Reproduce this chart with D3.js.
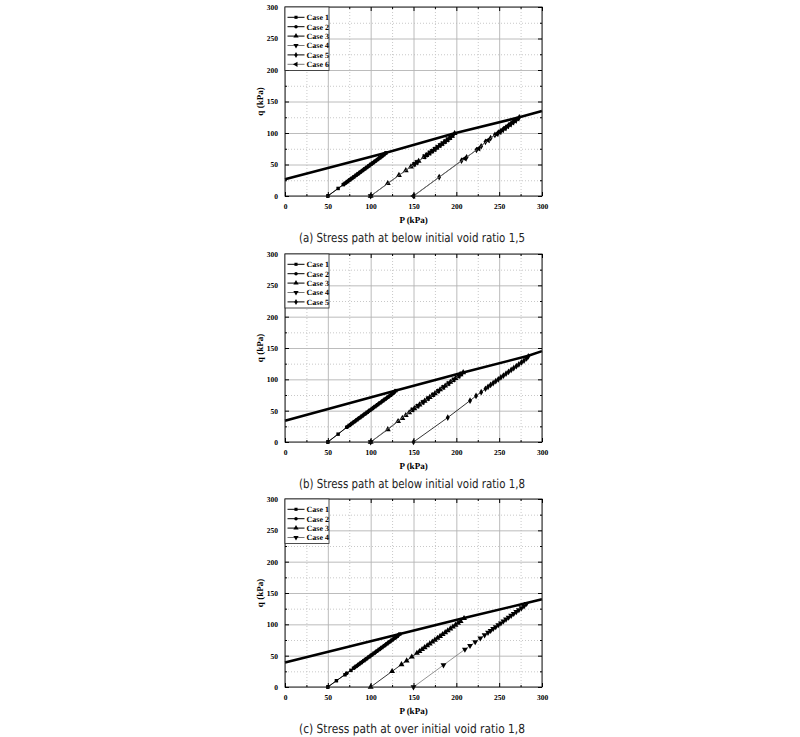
<!DOCTYPE html>
<html><head><meta charset="utf-8">
<script src="https://cdn.jsdelivr.net/npm/d3@7/dist/d3.min.js"></script>
<style>body{margin:0;background:#fff} text{text-rendering:geometricPrecision}</style>
</head><body>
<svg id="chart" width="800" height="737"></svg>
<script>
// ---------- DATA ----------
const majorTicks = [0, 50, 100, 150, 200, 250, 300];
const minorTicks = [25, 75, 125, 175, 225, 275];
const caseNames = ["Case 1", "Case 2", "Case 3", "Case 4", "Case 5", "Case 6"];
const captions = [
  "(a) Stress path at below initial void ratio 1,5",
  "(b) Stress path at below initial void ratio 1,8",
  "(c) Stress path at over initial void ratio 1,8"
];

// Panel (a) failure line
const failAP = [0, 118, 198, 273.5, 300];
const failAQ = [26.5, 68.5, 99.5, 125, 135];
// Panel (a) stress paths
const aC1P = [50, 62, 68, 70.5, 73, 75.5, 78, 80.5, 83, 85.5, 88, 90.5, 93, 95.5, 98, 100.5, 103, 105.5, 108, 110.5, 113, 115.5, 118];
const aC1Q = [0, 12, 18, 20.5, 23, 25.5, 28, 30.5, 33, 35.5, 38, 40.5, 43, 45.5, 48, 50.5, 53, 55.5, 58, 60.5, 63, 65.8, 68.5];
const aC2P = [50, 69, 72, 74.5, 77, 79.5, 82, 84.5, 87, 89.5, 92, 94.5, 97, 99.5, 102, 104.5, 107, 109.5, 112, 114.5, 117];
const aC2Q = [0, 19, 22, 24.5, 27, 29.5, 32, 34.5, 37, 39.5, 42, 44.5, 47, 49.5, 52, 54.5, 57, 59.5, 62, 64.6, 67.4];
const aC3P = [100, 120, 133, 141, 147, 150, 153, 156, 162, 165, 168, 171, 174, 177, 180, 183, 186, 189, 192, 195, 198];
const aC3Q = [0, 20, 33, 40.5, 46.5, 49.5, 52.5, 55.5, 61.5, 64.5, 67.5, 70.5, 73.5, 76.5, 79.5, 82.5, 85.5, 88.5, 91.5, 95, 99.5];
const aC4P = [100, 151.5, 154.5, 163.5, 166.5, 169.5, 172.5, 175.5, 178.5, 181.5, 184.5, 187.5, 190.5, 193.5, 196.5];
const aC4Q = [0, 51, 54, 63, 66, 69, 72, 75, 78, 81, 84, 87, 90, 93.5, 97.5];
const aC5P = [150, 180, 206, 212, 223.5, 229, 234, 240, 245, 249, 252, 255, 258, 261, 264, 267, 270, 273.5];
const aC5Q = [0, 30, 56, 61.5, 73, 79, 86, 92, 97, 100.5, 103, 106, 109, 112, 115, 118, 121, 125];
const aC6P = [150, 210, 226, 237, 247, 250.5, 253.5, 256.5, 259.5, 262.5, 265.5, 268.5, 271.5];
const aC6Q = [0, 59.5, 75.5, 88.5, 98.5, 101.5, 104.5, 107.5, 110.5, 113.5, 116.5, 119.5, 122.8];

// Panel (b) failure line
const failBP = [0, 129.5, 208, 284, 300];
const failBQ = [34, 82, 111, 137.5, 145];
// Panel (b) stress paths
const bC1P = [50, 62, 72, 75, 78, 81, 84, 87, 90, 93, 96, 99, 102, 105, 108, 111, 114, 117, 120, 123, 126, 129.5];
const bC1Q = [0, 12.5, 23.5, 26.5, 29.5, 32.5, 35.5, 38.5, 41.5, 44.5, 47.5, 50.5, 53.5, 56.5, 59.5, 62.5, 65.5, 68.5, 71.5, 74.5, 77.8, 82];
const bC2P = [50, 73.5, 76.5, 79.5, 82.5, 85.5, 88.5, 91.5, 94.5, 97.5, 100.5, 103.5, 106.5, 109.5, 112.5, 115.5, 118.5, 121.5, 124.5, 127.5];
const bC2Q = [0, 25, 28, 31, 34, 37, 40, 43, 46, 49, 52, 55, 58, 61, 64, 67, 70, 73, 76, 79.5];
const bC3P = [100, 120, 132, 137, 141, 145, 148, 151, 154, 157, 160, 163, 166, 169, 172, 175, 178, 181, 184, 187, 190, 193, 196, 199, 202, 205, 208];
const bC3Q = [0, 20, 33, 38, 42.5, 47, 50.5, 53.5, 56.5, 59.5, 62.5, 65.5, 68.5, 71.5, 74.5, 77.5, 80.5, 83.5, 86.5, 89.5, 92.5, 95.5, 98.5, 101.5, 104.5, 107.5, 111];
const bC4P = [100, 149.5, 155.5, 161.5, 167.5, 173.5, 179.5, 185.5, 191.5, 197.5, 203.5, 206.5];
const bC4Q = [0, 52, 58, 64, 70, 76, 82, 88, 94, 100, 106, 109.5];
const bC5P = [150, 190, 216, 223, 229, 234, 237, 240, 243, 246, 249, 252, 255, 258, 261, 264, 267, 270, 273, 276, 279, 282, 284];
const bC5Q = [0, 39, 66, 73.5, 79.5, 85, 88, 91, 94, 97, 100, 103, 106, 109, 112, 115, 118, 121, 124, 127, 130, 133.5, 136.5];

// Panel (c) failure line
const failCP = [0, 134, 209, 282, 300];
const failCQ = [39, 84.5, 110, 134, 140];
// Panel (c) stress paths
const cC1P = [50, 60, 70, 77, 80, 83, 86, 89, 92, 95, 98, 101, 104, 107, 110, 113, 116, 119, 122, 125, 128, 131, 134];
const cC1Q = [0, 10, 19.5, 26.5, 30, 33, 36, 39, 42, 45, 48, 51, 54, 57, 60, 63, 66, 69, 72, 75, 78, 81, 84.5];
const cC2P = [50, 72, 81.5, 84.5, 87.5, 90.5, 93.5, 96.5, 99.5, 102.5, 105.5, 108.5, 111.5, 114.5, 117.5, 120.5, 123.5, 126.5, 129.5, 132.5];
const cC2Q = [0, 22, 31.5, 34.5, 37.5, 40.5, 43.5, 46.5, 49.5, 52.5, 55.5, 58.5, 61.5, 64.5, 67.5, 70.5, 73.5, 76.5, 79.5, 83];
const cC3P = [100, 125, 136, 142, 148, 154, 157, 160, 163, 166, 169, 172, 175, 178, 181, 184, 187, 190, 193, 196, 199, 202, 205, 209];
const cC3Q = [0, 25, 36, 42, 48, 54, 57, 60, 63, 66, 69, 72, 75, 78, 81, 84, 87, 90, 93, 96, 99, 102, 105, 109.5];
const cC4P = [150, 185, 210, 216, 222, 228, 233, 237, 240, 243, 246, 249, 252, 255, 258, 261, 264, 267, 270, 273, 276, 279, 282];
const cC4Q = [0, 35, 60, 66, 72, 78, 83, 87, 90, 93, 96, 99, 102, 105, 108, 111, 114, 117, 120, 123, 126, 129, 133];

// ---------- DRAWING ----------
const symbolTypes = [
  {t: d3.symbolSquare, r: 0, s: 12},
  {t: d3.symbolCircle, r: 0, s: 12},
  {t: d3.symbolTriangle, r: 0, s: 15},
  {t: d3.symbolTriangle, r: 180, s: 15},
  {t: d3.symbolDiamond, r: 0, s: 13},
  {t: d3.symbolTriangle, r: -90, s: 15}
];
const lineColors = ["#000", "#000", "#000", "#777", "#000", "#777"];

const panels = [
  {top: 7, bottom: 196, fail: [failAP, failAQ], cases: [[aC1P, aC1Q], [aC2P, aC2Q], [aC3P, aC3Q], [aC4P, aC4Q], [aC5P, aC5Q], [aC6P, aC6Q]]},
  {top: 254, bottom: 442, fail: [failBP, failBQ], cases: [[bC1P, bC1Q], [bC2P, bC2Q], [bC3P, bC3Q], [bC4P, bC4Q], [bC5P, bC5Q]]},
  {top: 499, bottom: 687, fail: [failCP, failCQ], cases: [[cC1P, cC1Q], [cC2P, cC2Q], [cC3P, cC3Q], [cC4P, cC4Q]]}
];
const X0 = 285, X1 = 542;
const svg = d3.select("#chart");
const serif = "'Liberation Serif','Times New Roman',serif";

panels.forEach((pn, pi) => {
  const x = d3.scaleLinear().domain([0, 300]).range([X0, X1]);
  const y = d3.scaleLinear().domain([0, 300]).range([pn.bottom, pn.top]);
  const g = svg.append("g");
  const H = pn.bottom - pn.top, Wd = X1 - X0;

  // minor grid (dotted)
  g.append("g").attr("transform", `translate(0,${pn.bottom})`)
    .call(d3.axisBottom(x).tickValues(minorTicks).tickSize(-H).tickFormat(""))
    .call(a => { a.select(".domain").remove(); a.selectAll("line").attr("stroke", "#c8c8c8").attr("stroke-dasharray", "1,2"); });
  g.append("g").attr("transform", `translate(${X0},0)`)
    .call(d3.axisLeft(y).tickValues(minorTicks).tickSize(-Wd).tickFormat(""))
    .call(a => { a.select(".domain").remove(); a.selectAll("line").attr("stroke", "#c8c8c8").attr("stroke-dasharray", "1,2"); });
  // major grid
  g.append("g").attr("transform", `translate(0,${pn.bottom})`)
    .call(d3.axisBottom(x).tickValues(majorTicks).tickSize(-H).tickFormat(""))
    .call(a => { a.select(".domain").remove(); a.selectAll("line").attr("stroke", "#b4b4b4").attr("stroke-width", 0.9); });
  g.append("g").attr("transform", `translate(${X0},0)`)
    .call(d3.axisLeft(y).tickValues(majorTicks).tickSize(-Wd).tickFormat(""))
    .call(a => { a.select(".domain").remove(); a.selectAll("line").attr("stroke", "#b4b4b4").attr("stroke-width", 0.9); });

  // stress paths
  const line = d3.line().x(d => x(d[0])).y(d => y(d[1]));
  pn.cases.forEach((c, ci) => {
    const pts = c[0].map((p, i) => [p, c[1][i]]);
    g.append("path").datum(pts).attr("d", line)
      .attr("fill", "none").attr("stroke", lineColors[ci]).attr("stroke-width", 0.8);
    const st = symbolTypes[ci];
    g.append("g").selectAll("path").data(pts).join("path")
      .attr("d", d3.symbol().type(st.t).size(st.s))
      .attr("transform", d => `translate(${x(d[0])},${y(d[1])}) rotate(${st.r})`)
      .attr("fill", "#000");
  });

  // failure line
  const fpts = pn.fail[0].map((p, i) => [p, pn.fail[1][i]]);
  g.append("path").datum(fpts).attr("d", line)
    .attr("fill", "none").attr("stroke", "#000").attr("stroke-width", 2.6).attr("stroke-linejoin", "round");

  // frame
  g.append("rect").attr("x", X0).attr("y", pn.top).attr("width", Wd).attr("height", H)
    .attr("fill", "none").attr("stroke", "#222").attr("stroke-width", 1);

  // ticks
  const styleAxis = a => { a.select(".domain").remove(); a.selectAll("line").attr("stroke", "#000"); };
  const styleText = a => a.selectAll("text").attr("font-family", serif).attr("font-weight", "bold")
    .attr("font-size", 7.5).attr("fill", "#000").attr("stroke", "none");
  g.append("g").attr("transform", `translate(0,${pn.bottom})`)
    .call(d3.axisBottom(x).tickValues(majorTicks).tickSize(-4).tickPadding(8))
    .call(styleAxis).call(styleText);
  g.append("g").attr("transform", `translate(0,${pn.bottom})`)
    .call(d3.axisBottom(x).tickValues(minorTicks).tickSize(-2).tickFormat("")).call(styleAxis);
  g.append("g").attr("transform", `translate(0,${pn.top})`)
    .call(d3.axisTop(x).tickValues(majorTicks).tickSize(-4).tickFormat("")).call(styleAxis);
  g.append("g").attr("transform", `translate(0,${pn.top})`)
    .call(d3.axisTop(x).tickValues(minorTicks).tickSize(-2).tickFormat("")).call(styleAxis);
  g.append("g").attr("transform", `translate(${X0},0)`)
    .call(d3.axisLeft(y).tickValues(majorTicks).tickSize(-4).tickPadding(7))
    .call(styleAxis).call(styleText);
  g.append("g").attr("transform", `translate(${X0},0)`)
    .call(d3.axisLeft(y).tickValues(minorTicks).tickSize(-2).tickFormat("")).call(styleAxis);
  g.append("g").attr("transform", `translate(${X1},0)`)
    .call(d3.axisRight(y).tickValues(majorTicks).tickSize(-4).tickFormat("")).call(styleAxis);
  g.append("g").attr("transform", `translate(${X1},0)`)
    .call(d3.axisRight(y).tickValues(minorTicks).tickSize(-2).tickFormat("")).call(styleAxis);

  // axis titles
  g.append("text").attr("x", (X0 + X1) / 2).attr("y", pn.bottom + 26.5)
    .attr("text-anchor", "middle").attr("font-family", serif).attr("font-weight", "bold").attr("font-size", 9)
    .text("P (kPa)");
  g.append("text").attr("transform", `translate(263,${(pn.top + pn.bottom) / 2}) rotate(-90)`)
    .attr("text-anchor", "middle").attr("font-family", serif).attr("font-weight", "bold").attr("font-size", 9)
    .text("q (kPa)");

  // caption
  g.append("text").attr("x", 412).attr("y", pn.bottom + 46)
    .attr("text-anchor", "middle").attr("font-family", "'DejaVu Sans',sans-serif")
    .attr("font-size", 12.5).attr("fill", "#222")
    .attr("textLength", 226).attr("lengthAdjust", "spacingAndGlyphs")
    .text(captions[pi]);

  // legend
  const n = pn.cases.length;
  const lg = g.append("g");
  lg.append("rect").attr("x", X0).attr("y", pn.top).attr("width", 44).attr("height", n * 9.4 + 7)
    .attr("fill", "#fff").attr("stroke", "#222").attr("stroke-width", 0.8);
  for (let i = 0; i < n; i++) {
    const yy = pn.top + 10.3 + i * 9.4;
    lg.append("line").attr("x1", X0 + 2.5).attr("x2", X0 + 19.5).attr("y1", yy).attr("y2", yy)
      .attr("stroke", lineColors[i]).attr("stroke-width", 1);
    const st = symbolTypes[i];
    lg.append("path").attr("d", d3.symbol().type(st.t).size(st.s * 0.8)())
      .attr("transform", `translate(${X0 + 11},${yy}) rotate(${st.r})`).attr("fill", "#000");
    lg.append("text").attr("x", X0 + 21.5).attr("y", yy + 2.8)
      .attr("font-family", serif).attr("font-weight", "bold").attr("font-size", 8).attr("fill", "#000")
      .text(caseNames[i]);
  }
});
</script>
</body></html>
